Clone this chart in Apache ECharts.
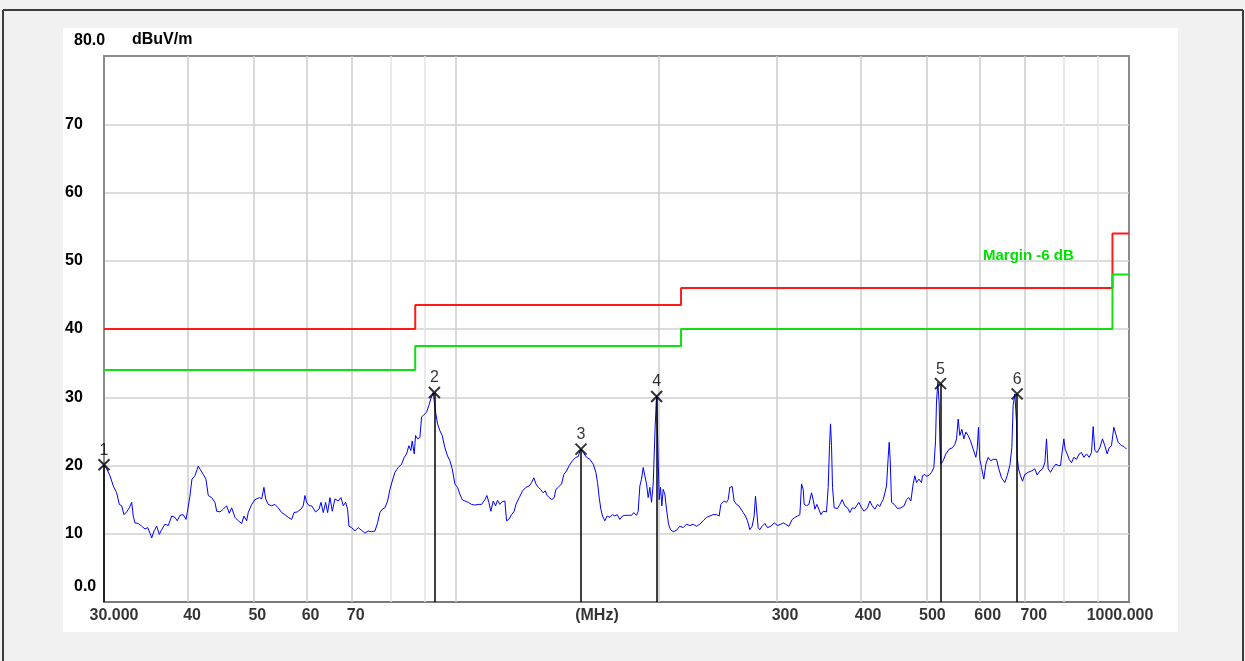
<!DOCTYPE html>
<html>
<head>
<meta charset="utf-8">
<title>Radiated emission 30 - 1000 MHz</title>
<style>
    html, body { margin: 0; padding: 0; background: #f1f1f1; }
    #chart { width: 1245px; height: 661px; }
</style>
<script src="https://cdn.jsdelivr.net/npm/echarts@6.0.0/dist/echarts.min.js"></script>
</head>
<body>
<div id="chart"></div>
<script>
const traceFreq = [
    30.00, 30.28, 30.62, 30.97, 31.33, 31.61, 31.87, 32.12, 32.42, 32.71,
    32.98, 33.16, 33.35, 33.73, 34.13, 34.52, 34.84, 35.11, 35.32, 35.60,
    35.93, 36.25, 36.54, 36.96, 37.38, 37.82, 38.24, 38.54, 38.90, 39.34,
    39.71, 39.89, 40.25, 40.53, 40.95, 41.41, 41.65, 42.13, 42.52, 42.86,
    43.36, 43.85, 44.11, 44.61, 45.11, 45.64, 46.05, 46.43, 46.96, 47.49,
    48.05, 48.42, 48.87, 49.14, 49.72, 50.28, 51.03, 51.45, 51.85, 52.16,
    52.62, 53.24, 53.84, 54.45, 55.09, 55.71, 56.35, 57.01, 57.46, 58.11,
    58.85, 59.31, 59.66, 60.01, 60.54,
    61.04, 61.88, 62.59, 63.02, 63.52, 64.03, 64.47, 64.99, 65.51, 66.11,
    66.86, 67.48, 68.02, 68.56, 69.03, 69.35, 69.98, 70.78, 71.59, 72.41,
    73.24, 74.08, 74.93, 75.79, 76.49, 77.10, 77.72, 78.43, 79.15, 79.79,
    80.42, 81.16, 82.09, 83.03, 83.79, 84.46, 85.14, 85.72, 86.11, 86.71,
    87.10, 87.70, 88.40, 88.91, 89.72, 90.44, 91.16, 91.79, 92.53, 93.27,
    93.91, 94.66, 95.42, 96.29, 97.17, 97.95, 98.74, 99.64, 100.55, 101.36,
    102.17, 103.11, 104.29, 105.49, 106.70, 107.92, 109.16, 110.41, 111.17, 111.93,
    112.70, 113.60, 114.51, 115.29, 116.22, 117.15, 118.22, 118.90, 119.85, 120.95,
    122.06,
    122.78, 124.19, 125.61, 127.05, 128.51, 129.54, 130.57, 131.47, 132.52, 133.58,
    134.81, 135.73, 136.66, 137.60, 138.86, 139.97, 140.77, 141.90, 143.53, 144.67,
    146.00, 147.34, 149.02, 150.73, 151.94, 153.16, 154.56, 156.33, 158.12, 159.94,
    161.40, 162.32, 163.25, 164.18, 165.12, 166.45, 167.78, 169.32, 170.87, 172.23,
    173.61, 175.20, 176.81, 178.23, 180.27, 182.34, 183.80, 185.48, 186.54, 187.61,
    188.69, 189.76, 190.85, 191.94, 193.04, 194.14, 195.25, 196.37, 197.04, 197.71,
    198.62, 199.53, 200.44, 201.35, 202.27, 203.20, 204.36, 205.53, 206.94, 208.36,
    210.27, 212.68, 215.12, 217.58, 220.08, 222.60, 225.15, 227.74, 230.35, 232.99,
    235.66, 238.36, 241.09, 243.86, 246.09,
    247.50, 250.34, 252.34, 253.79, 255.23, 257.28, 259.04, 261.12, 263.21, 265.01,
    267.14, 269.28, 271.13, 273.30, 275.49, 277.38, 278.65, 279.98, 281.20, 282.80,
    285.07, 287.69, 290.33, 293.71, 297.07, 300.48, 303.93, 306.37, 308.82, 312.37,
    315.94, 318.83, 321.76, 324.34, 326.19, 328.06, 329.18, 331.82, 334.48, 337.54,
    339.46, 341.40, 343.74, 346.10, 348.47, 351.26, 355.29, 357.32, 358.96, 360.19,
    361.43, 362.67, 364.75, 368.92, 371.87, 374.85, 378.28, 381.75, 384.80, 387.89,
    391.45, 396.85, 400.49, 404.15, 408.78, 412.07, 415.37, 419.18, 423.03, 426.41,
    428.85, 431.31, 433.78, 436.26, 438.76, 440.26, 441.76, 443.78, 447.85, 452.98,
    458.17, 463.42, 467.12, 470.87, 474.11, 477.91, 480.64, 483.40, 487.27, 491.74,
    493.4, 497.4, 500.2, 504.8, 508.9, 512.9, 515.9, 517.6, 520.0, 522.4,
    523.6, 525.4, 529.6, 534.4, 540.6, 546.8, 551.1, 554.3, 557.5, 560.6,
    564.5, 568.4, 572.3, 576.8, 581.5, 586.8, 592.2, 594.9, 597.6, 600.3,
    603.8, 608.6, 612.8, 617.7, 622.6, 628.4, 635.6, 640.6, 646.5, 653.9,
    659.2, 665.2, 669.8, 672.8, 676.7, 680.6, 682.1, 685.2, 689.9, 694.7,
    700.2, 708.3, 716.4, 724.6, 730.4, 737.1, 743.9, 749.8, 754.1, 758.4,
    764.5, 771.5, 778.6, 784.8, 791.1, 796.5, 800.2, 803.8, 809.3, 814.9,
    821.4, 828.0, 835.6, 843.2, 850.0, 856.8, 864.7, 872.6, 879.6, 884.6,
    889.7, 896.8, 905.0, 913.3, 920.6, 928.0, 934.4, 941.8, 949.4, 955.9,
    963.5, 974.6, 982.4, 991.4,
];
const traceLevel = [
    20.1, 19.5, 18.5, 17.0, 16.0, 14.3, 14.1, 12.8, 13.2, 13.8,
    14.6, 12.6, 11.6, 11.5, 11.1, 10.7, 10.9, 10.1, 9.4, 10.4,
    11.1, 9.9, 10.6, 11.4, 11.2, 12.6, 12.4, 11.9, 12.7, 12.8,
    12.1, 13.1, 15.5, 18.0, 18.5, 19.9, 19.7, 18.7, 18.0, 15.6,
    15.3, 14.6, 13.3, 13.2, 13.6, 14.1, 13.0, 13.8, 12.4, 11.9,
    11.5, 12.6, 11.9, 13.1, 14.3, 15.0, 15.3, 15.1, 16.8, 15.1,
    14.3, 14.1, 14.3, 13.8, 13.1, 12.8, 12.4, 12.1, 13.1, 13.2,
    13.6, 14.1, 15.6, 14.6, 14.1,
    14.1, 13.2, 13.6, 14.6, 13.1, 14.6, 13.1, 15.3, 13.3, 15.1,
    14.8, 15.3, 14.1, 14.6, 13.6, 11.1, 10.9, 10.4, 10.9, 10.5,
    10.1, 10.4, 10.3, 10.4, 11.6, 13.1, 13.6, 13.8, 14.8, 16.5,
    17.7, 19.0, 19.7, 20.2, 21.2, 21.7, 22.9, 22.2, 23.6, 21.7,
    24.4, 23.9, 24.1, 27.1, 27.5, 27.8, 28.8, 29.8, 30.7, 27.8,
    26.1, 25.1, 24.4, 22.6, 21.4, 20.7, 19.5, 17.3, 16.8, 15.8,
    15.0, 14.8, 14.6, 14.3, 14.2, 14.3, 14.3, 15.0, 15.6, 14.6,
    13.3, 14.8, 14.1, 14.9, 14.3, 14.7, 14.8, 11.9, 12.1, 12.8,
    13.3,
    14.3, 15.3, 16.3, 16.8, 17.0, 17.5, 18.2, 17.3, 16.8, 16.5,
    16.0, 16.3, 15.6, 15.3, 15.0, 15.3, 16.5, 16.8, 17.3, 18.7,
    19.2, 20.0, 20.7, 21.2, 21.3, 22.4, 21.9, 21.2, 20.9, 20.2,
    19.0, 17.5, 15.3, 13.6, 12.6, 11.9, 12.6, 12.4, 12.8, 12.6,
    12.8, 12.1, 12.6, 12.7, 12.7, 12.7, 13.1, 12.7, 13.3, 17.0,
    18.0, 19.7, 18.5, 17.3, 15.3, 16.8, 14.6, 17.3, 17.5, 25.8,
    30.2, 22.9, 15.0, 16.8, 14.1, 16.5, 15.8, 13.6, 11.4, 10.6,
    10.3, 10.5, 11.1, 10.9, 11.4, 11.2, 11.4, 11.1, 11.4, 11.9,
    12.4, 12.6, 12.8, 12.8, 12.6,
    14.3, 14.8, 14.6, 15.0, 16.8, 16.9, 14.8, 14.3, 14.1, 14.3,
    13.1, 12.6, 11.9, 10.6, 11.1, 12.6, 15.5, 15.3, 10.9, 10.6,
    11.1, 11.5, 10.9, 11.1, 11.6, 11.2, 11.4, 11.6, 11.4, 11.1,
    12.1, 12.4, 12.6, 12.8, 17.3, 16.5, 14.3, 14.1, 14.3, 16.0,
    15.0, 13.6, 14.3, 13.6, 12.8, 13.3, 13.2, 16.8, 22.9, 26.1,
    22.9, 16.8, 13.8, 13.7, 14.3, 15.0, 14.1, 13.8, 13.1, 13.8,
    13.7, 14.6, 13.8, 13.3, 13.8, 14.8, 14.1, 13.6, 14.3, 14.0,
    14.6, 15.0, 14.8, 17.0, 21.2, 23.4, 20.9, 14.6, 14.3, 13.7,
    13.8, 14.1, 15.0, 15.3, 14.8, 17.3, 18.5, 17.5, 18.0, 17.5,
    18.5, 18.7, 18.4, 18.6, 19.0, 19.7, 23.6, 29.3, 32.2, 29.0,
    23.4, 20.2, 20.7, 21.7, 22.4, 22.6, 23.1, 23.9, 26.8, 24.4,
    25.3, 23.9, 24.9, 24.4, 23.6, 22.4, 21.2, 22.4, 25.6, 20.9,
    19.7, 18.0, 20.2, 21.2, 20.7, 20.9, 20.9, 19.5, 18.2, 17.5,
    18.5, 20.0, 22.6, 28.8, 30.5, 26.3, 21.4, 19.5, 18.5, 17.7,
    18.7, 19.0, 19.2, 19.5, 18.6, 19.2, 19.5, 20.4, 23.9, 19.5,
    19.0, 19.7, 20.2, 20.0, 20.0, 22.4, 23.9, 22.4, 21.7, 20.9,
    20.4, 21.2, 20.9, 21.7, 21.9, 21.2, 21.7, 21.2, 21.9, 25.7,
    22.2, 21.9, 22.6, 23.9, 22.9, 21.7, 22.6, 22.9, 25.6, 24.6,
    23.4, 22.9, 22.8, 22.4,
];

// limit (red) and margin -6 dB (green) step lines
const limitFreq = [30, 87, 87, 216, 216, 945, 945, 1000];
const limitLevel = [40, 40, 43.5, 43.5, 46, 46, 54, 54];
const marginLevel = [34, 34, 37.5, 37.5, 40, 40, 48, 48];

// peak markers
const markerNo = ['1', '2', '3', '4', '5', '6'];
const markerFreq = [30.0, 92.9, 153.4, 198.7, 524.7, 682.0];
const markerLevel = [20.1, 30.7, 22.4, 30.1, 32.0, 30.5];

// x axis ticks / grid
const xTickFreq = [30, 40, 50, 60, 70, 162, 300, 400, 500, 600, 700, 1000];
const xTickText = ['30.000', '40', '50', '60', '70', '(MHz)', '300', '400', '500', '600', '700', '1000.000'];
const gridFreq = [40, 50, 60, 70, 100, 200, 300, 400, 500, 600, 700];
const gridFreqLight = [80, 90, 800, 900];

const FONT = '"Liberation Sans", Arial, sans-serif';
// 标签相对网格线的水平偏移
const labelShift = { 30: 10, 40: 4, 50: 4, 60: 4, 70: 4, 162: 0, 300: 8, 400: 7, 500: 6, 600: 8, 700: 9, 1000: -9 };

const pairs = (xs, ys) => xs.map((x, i) => [x, ys[i]]);

const chart = echarts.init(document.getElementById('chart'), null, { renderer: 'canvas' });

const option = {
    backgroundColor: '#f1f1f1',
    animation: false,
    graphic: [
        { type: 'rect', z: -100, shape: { x: 63, y: 28, width: 1115, height: 604 }, style: { fill: '#ffffff' } },
        { type: 'line', z: -90, shape: { x1: 3, y1: 10, x2: 1243, y2: 10 }, style: { stroke: '#3c3c3c', lineWidth: 2 } },
        { type: 'line', z: -90, shape: { x1: 3, y1: 10, x2: 3, y2: 661 }, style: { stroke: '#3c3c3c', lineWidth: 2 } },
        { type: 'line', z: -90, shape: { x1: 1243, y1: 10, x2: 1243, y2: 661 }, style: { stroke: '#3c3c3c', lineWidth: 2 } },
        {
            type: 'text', left: 132, top: 32, z: 100,
            style: { text: 'dBuV/m', font: 'bold 16px ' + FONT, fill: '#000' },
        },
        {
            type: 'text', left: 983, top: 248, z: 100,
            style: { text: 'Margin -6 dB', font: 'bold 15px ' + FONT, fill: '#00e000' },
        },
    ],
    grid: {
        left: 104,
        right: 116,
        top: 56,
        bottom: 59,
        show: true,
        borderColor: '#8c8c8c',
        borderWidth: 2,
    },
    xAxis: {
        type: 'log',
        logBase: 10,
        min: 30,
        max: 1000,
        axisLine: { show: true, lineStyle: { color: '#7a7a7a', width: 2 } },
        axisTick: { show: false },
        axisLabel: { show: false },
        splitLine: { show: false },
    },
    yAxis: {
        type: 'value',
        min: 0,
        max: 80,
        interval: 10,
        axisLine: { show: true, lineStyle: { color: '#8c8c8c', width: 2 } },
        axisTick: { show: false },
        splitLine: { showMinLine: false, showMaxLine: false, lineStyle: { color: '#d0d0d0', width: 1.5 } },
        axisLabel: {
            margin: 39,
            align: 'left',
            formatter: v => ((v === 0 || v === 80) ? `{e|${v.toFixed(1)}}` : `{n|${v}}`),
            rich: {
                n: { fontSize: 16, fontWeight: 'bold', fontFamily: FONT, color: '#000' },
                e: { fontSize: 16, fontWeight: 'bold', fontFamily: FONT, color: '#000', padding: [0, 0, 31, 9] },
            },
        },
    },
    series: [
        {
            // vertical grid lines
            name: 'grid',
            type: 'line',
            data: [[30, 0]],
            symbol: 'none',
            silent: true,
            lineStyle: { opacity: 0 },
            z: 1,
            markLine: {
                z: 1,
                silent: true,
                symbol: ['none', 'none'],
                label: { show: false },
                lineStyle: { type: 'solid' },
                data: [
                    ...gridFreq.map(f => ({ xAxis: f, lineStyle: { color: '#cdcdcd', width: 1.5, type: 'solid' } })),
                    ...gridFreqLight.map(f => ({ xAxis: f, lineStyle: { color: '#e3e3e3', width: 1.5, type: 'solid' } })),
                ],
            },
        },
        {
            name: 'Limit',
            type: 'line',
            data: pairs(limitFreq, limitLevel),
            symbol: 'none',
            silent: true,
            lineStyle: { color: '#ff1a1a', width: 2 },
            z: 3,
        },
        {
            name: 'Margin -6 dB',
            type: 'line',
            data: pairs(limitFreq, marginLevel),
            symbol: 'none',
            silent: true,
            lineStyle: { color: '#10e010', width: 2 },
            z: 3,
        },
        {
            name: 'Trace',
            type: 'line',
            data: pairs(traceFreq, traceLevel),
            symbol: 'none',
            silent: true,
            lineStyle: { color: '#0000ff', width: 1 },
            z: 4,
        },
        {
            name: 'Markers',
            type: 'scatter',
            clip: false,
            silent: true,
            z: 7,
            symbol: 'path://M0,0L10,10M10,0L0,10',
            symbolSize: 11,
            itemStyle: { color: 'rgba(0,0,0,0)', borderColor: '#000', borderWidth: 2 },
            data: pairs(markerFreq, markerLevel),
            label: {
                show: true,
                position: 'top',
                distance: 0,
                formatter: p => markerNo[p.dataIndex],
                fontSize: 16,
                fontFamily: FONT,
                color: '#000',
            },
            markLine: {
                z: 6,
                silent: true,
                symbol: ['none', 'none'],
                label: { show: false },
                lineStyle: { color: '#000', width: 1.5, type: 'solid' },
                data: markerFreq.map((f, i) => [{ coord: [f, 0] }, { coord: [f, markerLevel[i]] }]),
            },
        },
        {
            // x axis labels
            name: 'ticks',
            type: 'scatter',
            clip: false,
            silent: true,
            symbol: 'circle',
            symbolSize: 1,
            itemStyle: { color: 'rgba(0,0,0,0)' },
            data: xTickFreq.map(f => ({ value: [f, 0], label: { offset: [labelShift[f] || 0, 0] } })),
            label: {
                show: true,
                position: 'bottom',
                distance: 5,
                formatter: p => xTickText[p.dataIndex],
                fontSize: 16,
                fontWeight: 'bold',
                fontFamily: FONT,
                color: '#000',
            },
            z: 6,
        },
    ],
};

chart.setOption(option);
</script>
</body>
</html>
